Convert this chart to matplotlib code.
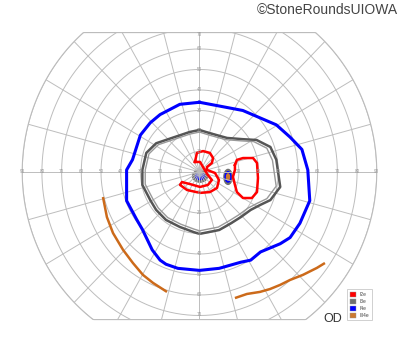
import numpy as np
import matplotlib
matplotlib.use("Agg")
import matplotlib.pyplot as plt
from matplotlib.patches import Polygon, Ellipse, Patch

plt.rcParams['font.family'] = ['Liberation Sans', 'DejaVu Sans']

# isopters, (x, y) in degrees of visual field
i4e_x = [0, 22, 39, 46, 52, 55, 56, 51, 46, 41, 36, 31, 26, 21, 10, 0, -11, -17, -20, -24, -29, -32, -37, -37, -34, -30, -25, -20, -10, 0]
i4e_y = [34, 30, 23, 17, 11, 1, -14, -25, -32, -35, -37, -39, -43, -44, -47, -48, -47, -45, -43, -38, -28, -23, -14, 1, 6, 18, 24, 28, 33, 34]

i3e_x = [0, 5, 14, 22, 29, 36, 39, 41, 36, 31, 26, 21, 16, 10, 0, -3, -10, -17, -22, -25, -29, -29, -27, -22, -14, -5, 0]
i3e_y = [20.5, 19, 16.6, 16, 15.6, 12.2, 6, -7.3, -13.7, -16, -18.5, -22, -25, -28.3, -30.2, -29.3, -26.8, -23.4, -18.5, -13.7, -6.3, 1, 9.3, 14, 16.6, 19.5, 20.5]

i2e_a_x = [-2.3, -1.3, 1.8, 5.3, 6.9, 6.3, 3.8, 3.8, 7.9, 9.9, 8.9, 5.3, 0.3, -6.3, -9.9, -8.9, -4.8, 0.3, 4.3, 6.3, 4.3, 3.3, 1.8, 0.3, -2.3]
i2e_a_y = [4.9, 9.3, 10.2, 9.3, 6.8, 4.4, 2.4, 1.0, -0.5, -3.9, -7.8, -9.8, -10.2, -8.8, -6.3, -4.9, -5.9, -7.3, -6.3, -3.9, -1.5, 0, 2.4, 4.9, 4.9]

i2e_b_x = [18, 19, 22.1, 27.2, 29.2, 29.7, 29.2, 26.6, 22.1, 19, 18, 17, 18, 18]
i2e_b_y = [3.4, 5.9, 6.8, 6.8, 4.4, -2.9, -9.8, -12.7, -12.7, -9.8, -6.3, -2.4, 1.0, 3.4]

iii4e_l_x = [-49, -47, -43.9, -38.8, -33.8, -28.7, -23.6, -16.5]
iii4e_l_y = [-12.2, -22, -29.8, -38, -44.4, -50.2, -54.1, -58.5]
iii4e_r_x = [63.7, 59.6, 52.5, 45.9, 40.9, 35.8, 30.7, 24.1, 18]
iii4e_r_y = [-44.4, -46.8, -50.2, -52.7, -55.1, -57.1, -58.5, -59.5, -61.5]

# scotomas: centre (x, y), width, height
centre_spot = (0.3, -2.0)
blind_spot = (14.5, -2.4)

legend_labels = ['I2e', 'I3e', 'I4e', 'III4e']
legend_colors = ['#ff0000', '#707070', '#0000ff', '#cc7a30']

rings = np.arange(10, 100, 10)
spokes = np.arange(0, 360, 15)

fig = plt.figure(figsize=(4, 3.52), dpi=100)
ax = fig.add_axes([0.0457, 0.0746, 0.906, 0.8445])
ax.set_xlim(-92, 92)
ax.set_ylim(-75, 70)
ax.axis('off')

# outline of chart: 90 deg circle cut at top and bottom
t = np.linspace(0, 2 * np.pi, 721)
ox = 90 * np.cos(t)
oy = np.clip(90 * np.sin(t), -72, 68)
outline = Polygon(np.column_stack([ox, oy]), closed=True, fill=False,
                  edgecolor='#bbbbbb', lw=0.8)
ax.add_patch(outline)

gc = '#bdbdbd'
for r in rings:
    l, = ax.plot(r * np.cos(t), r * np.sin(t), color=gc, lw=0.7)
    l.set_clip_path(outline)
for a in spokes:
    th = np.radians(a)
    l, = ax.plot([0, 95 * np.cos(th)], [0, 95 * np.sin(th)], color=gc, lw=0.7)
    l.set_clip_path(outline)

for r in rings:
    for s in (-1, 1):
        ax.text(s * r, 0, str(r), fontsize=3.3, color='#999999', ha='center', va='center')
for r in range(10, 70, 10):
    for s in (-1, 1):
        ax.text(0, s * r, str(r), fontsize=3.3, color='#999999', ha='center', va='center')
ax.text(0, 67.3, '70', fontsize=3.3, color='#999999', ha='center', va='center')
ax.text(0, -69.3, '70', fontsize=3.3, color='#999999', ha='center', va='center')

# isopters
ax.plot(i4e_x, i4e_y, color='#0000ff', lw=2.2, solid_joinstyle='round')
ax.plot(i3e_x, i3e_y, color='#555555', lw=1.8, solid_joinstyle='round')
ax.plot(np.array(i3e_x) * 0.95, np.array(i3e_y) * 0.95, color='#999999', lw=1.0)
ax.plot(iii4e_l_x, iii4e_l_y, color='#cc6a1a', lw=1.8, solid_capstyle='butt')
ax.plot(iii4e_r_x, iii4e_r_y, color='#cc6a1a', lw=1.8, solid_capstyle='butt')
ax.plot(i2e_a_x, i2e_a_y, color='#ff0000', lw=1.8, solid_joinstyle='round')
ax.plot(i2e_b_x, i2e_b_y, color='#ff0000', lw=1.8, solid_joinstyle='round')

ax.add_patch(Ellipse(centre_spot, 7.6, 5.9, color='#707070'))
ax.add_patch(Ellipse(centre_spot, 4.5, 3.4, color='#0000ff'))
ax.add_patch(Ellipse(blind_spot, 4.2, 7.3, color='#707070'))
ax.add_patch(Ellipse(blind_spot, 3.0, 5.0, color='#0000ff'))
ax.add_patch(Ellipse(blind_spot, 1.5, 3.0, color='#cc7a30'))

fig.text(0.995, 0.972, '\u00a9StoneRoundsUIOWA', fontsize=10, color='#444444',
         ha='right', va='center')
fig.text(0.833, 0.094, 'OD', fontsize=9, color='#333333', ha='center', va='center')

handles = [Patch(facecolor=c, edgecolor='#999999', lw=0.3) for c in legend_colors]
leg = fig.legend(handles, legend_labels, loc='lower left',
                 bbox_to_anchor=(0.862, 0.083), fontsize=3.5, frameon=True,
                 fancybox=False, handlelength=1.3, handleheight=1.3,
                 borderpad=0.5, labelspacing=0.35, handletextpad=0.8)
leg.get_frame().set_edgecolor('#bbbbbb')
leg.get_frame().set_linewidth(0.6)
for txt in leg.get_texts():
    txt.set_color('#444444')

fig.savefig('out.png', dpi=100)
